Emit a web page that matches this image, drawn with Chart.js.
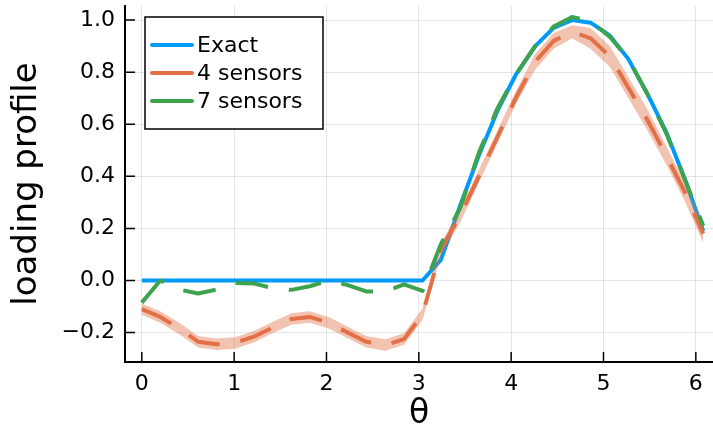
<!DOCTYPE html>
<html>
<head>
<meta charset="utf-8">
<script src="https://cdn.jsdelivr.net/npm/chart.js@4/dist/chart.umd.min.js"></script>
<style>
  html, body { margin: 0; padding: 0; background: #fff; }
  #wrap { width: 713px; height: 434px; }
</style>
</head>
<body>
<div id="wrap"><canvas id="loadChart" width="713" height="434"></canvas></div>
<script>
// values
const theta = [0, 0.2, 0.41, 0.61, 0.81, 1.01, 1.22, 1.42, 1.62, 1.82, 2.03, 2.23, 2.43, 2.64, 2.84, 3.04,
    3.24, 3.45, 3.65, 3.85, 4.05, 4.26, 4.46, 4.66, 4.86, 5.07, 5.27, 5.47, 5.68, 5.88, 6.08];
const exact = [0, 0, 0, 0, 0, 0, 0, 0, 0, 0, 0, 0, 0, 0, 0, 0,
    0.08, 0.29, 0.48, 0.65, 0.79, 0.9, 0.97, 1.0, 0.99, 0.94, 0.85, 0.72, 0.57, 0.39, 0.19];
const sensors4 = [-0.11, -0.14, -0.185, -0.235, -0.245, -0.24, -0.215, -0.18, -0.148, -0.14, -0.163, -0.2, -0.235, -0.248, -0.225, -0.13,
    0.12, 0.25, 0.4, 0.55, 0.7, 0.84, 0.92, 0.955, 0.93, 0.86, 0.74, 0.62, 0.48, 0.34, 0.18];
const sensors4Upper = [-0.088, -0.118, -0.163, -0.213, -0.223, -0.218, -0.193, -0.158, -0.126, -0.118, -0.141, -0.178, -0.213, -0.226, -0.203, -0.108,
    0.145, 0.275, 0.425, 0.575, 0.727, 0.87, 0.95, 0.98, 0.97, 0.9, 0.78, 0.66, 0.515, 0.375, 0.215];
const sensors4Lower = [-0.132, -0.162, -0.207, -0.257, -0.267, -0.262, -0.237, -0.202, -0.17, -0.162, -0.185, -0.222, -0.257, -0.27, -0.247, -0.152,
    0.095, 0.225, 0.375, 0.525, 0.677, 0.81, 0.89, 0.93, 0.89, 0.82, 0.7, 0.58, 0.445, 0.305, 0.145];
const sensors7 = [-0.085, 0.0, -0.035, -0.05, -0.035, -0.01, -0.012, -0.03, -0.036, -0.022, 0.0, -0.018, -0.042, -0.042, -0.015, -0.04,
    0.14, 0.28, 0.49, 0.66, 0.79, 0.9, 0.975, 1.012, 0.995, 0.935, 0.85, 0.72, 0.565, 0.39, 0.21];
const xTicks = [0, 1, 2, 3, 4, 5, 6];
const yTicks = [-0.2, 0, 0.2, 0.4, 0.6, 0.8, 1.0];

const FONT = "'DejaVu Sans', sans-serif";
const BLUE = "#009af9";
const ORANGE = "#e26f46";
const GREEN = "#3da44d";

function pts(ys) {
    return theta.map((t, i) => ({ x: t, y: ys[i] }));
}

function fmtY(v) {
    const s = Math.abs(v).toFixed(1);
    return v < -1e-9 ? "\u2212" + s : s;
}

// Plots-style legend box inside the plot area
const legendBox = {
    id: "legendBox",
    afterDraw(chart) {
        const ctx = chart.ctx;
        const items = [
            { label: "Exact", color: BLUE },
            { label: "4 sensors", color: ORANGE },
            { label: "7 sensors", color: GREEN },
        ];
        ctx.save();
        ctx.fillStyle = "#fff";
        ctx.fillRect(145, 17, 178, 112);
        ctx.strokeStyle = "#000";
        ctx.lineWidth = 1.5;
        ctx.strokeRect(145, 17, 178, 112);
        ctx.font = "22px " + FONT;
        ctx.textBaseline = "middle";
        items.forEach((it, i) => {
            const y = 45 + i * 28;
            ctx.strokeStyle = it.color;
            ctx.lineWidth = 4;
            ctx.lineCap = "round";
            ctx.beginPath();
            ctx.moveTo(152, y);
            ctx.lineTo(192, y);
            ctx.stroke();
            ctx.fillStyle = "#000";
            ctx.fillText(it.label, 197, y + 1);
        });
        ctx.restore();
    },
};

// inward tick marks
const innerTicks = {
    id: "innerTicks",
    afterDraw(chart) {
        const ctx = chart.ctx;
        const xs = chart.scales.x;
        const ys = chart.scales.y;
        const area = chart.chartArea;
        ctx.save();
        ctx.strokeStyle = "#000";
        ctx.lineWidth = 1.5;
        ctx.beginPath();
        xTicks.forEach((v) => {
            const px = xs.getPixelForValue(v);
            ctx.moveTo(px, area.bottom);
            ctx.lineTo(px, area.bottom - 10);
        });
        yTicks.forEach((v) => {
            const py = ys.getPixelForValue(v);
            ctx.moveTo(area.left, py);
            ctx.lineTo(area.left + 10, py);
        });
        ctx.stroke();
        ctx.restore();
    },
};

const ctx = document.getElementById("loadChart").getContext("2d");

new Chart(ctx, {
    type: "line",
    data: {
        datasets: [
            {
                label: "Exact",
                data: pts(exact),
                borderColor: BLUE,
                borderWidth: 4,
                pointRadius: 0,
                fill: false,
                order: 5,
            },
            {
                label: "band upper",
                data: pts(sensors4Upper),
                borderWidth: 0,
                borderColor: "rgba(0,0,0,0)",
                backgroundColor: "rgba(226,111,70,0.42)",
                pointRadius: 0,
                fill: "+1",
                order: 4,
            },
            {
                label: "band lower",
                data: pts(sensors4Lower),
                borderWidth: 0,
                borderColor: "rgba(0,0,0,0)",
                pointRadius: 0,
                fill: false,
                order: 4,
            },
            {
                label: "4 sensors",
                data: pts(sensors4),
                borderColor: ORANGE,
                borderWidth: 4,
                borderDash: [33, 21],
                pointRadius: 0,
                fill: false,
                order: 2,
            },
            {
                label: "7 sensors",
                data: pts(sensors7),
                borderColor: GREEN,
                borderWidth: 4,
                borderDash: [33, 21],
                pointRadius: 0,
                fill: false,
                order: 1,
            },
        ],
    },
    options: {
        responsive: false,
        animation: false,
        layout: { padding: { top: 6, right: 0, left: 0, bottom: 0 } },
        plugins: {
            legend: { display: false },
            tooltip: { enabled: false },
        },
        elements: { line: { tension: 0, borderJoinStyle: "round" } },
        scales: {
            x: {
                type: "linear",
                min: -0.182,
                max: 6.186,
                afterBuildTicks: (scale) => {
                    scale.ticks = xTicks.map((v) => ({ value: v }));
                },
                afterFit: (scale) => {
                    scale.height = 72;
                    scale.paddingLeft = 0;
                    scale.paddingRight = 0;
                },
                grid: { color: "rgba(0,0,0,0.1)", lineWidth: 1, drawTicks: false },
                border: { color: "#000", width: 2 },
                ticks: {
                    padding: 9,
                    color: "#000",
                    font: { family: FONT, size: 22 },
                    maxRotation: 0,
                    callback: (v) => String(v),
                },
                title: {
                    display: true,
                    text: "θ",
                    color: "#000",
                    font: { family: FONT, size: 33 },
                    padding: { top: 0, bottom: 0 },
                },
            },
            y: {
                type: "linear",
                min: -0.313,
                max: 1.054,
                afterBuildTicks: (scale) => {
                    scale.ticks = yTicks.map((v) => ({ value: v }));
                },
                afterFit: (scale) => {
                    scale.width = 125;
                    scale.paddingTop = 0;
                    scale.paddingBottom = 0;
                },
                grid: { color: "rgba(0,0,0,0.1)", lineWidth: 1, drawTicks: false },
                border: { color: "#000", width: 2 },
                ticks: {
                    padding: 10,
                    color: "#000",
                    font: { family: FONT, size: 22 },
                    callback: (v) => fmtY(v),
                },
                title: {
                    display: true,
                    text: "loading profile",
                    color: "#000",
                    font: { family: FONT, size: 34 },
                    padding: { top: 7, bottom: 0 },
                },
            },
        },
    },
    plugins: [innerTicks, legendBox],
});
</script>
</body>
</html>
